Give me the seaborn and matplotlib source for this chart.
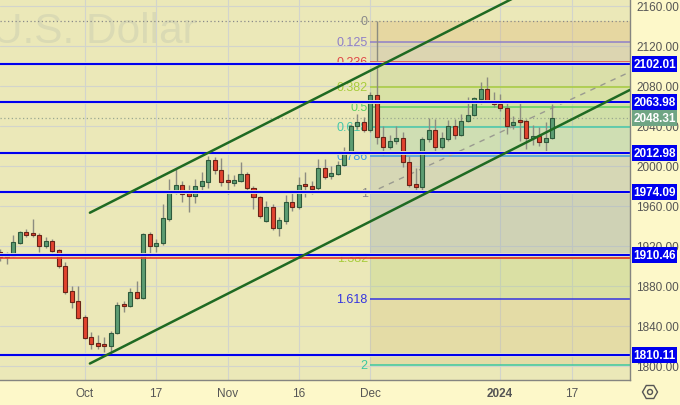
import numpy as np
import pandas as pd
import matplotlib
matplotlib.use('Agg')
import matplotlib.pyplot as plt
import matplotlib.patheffects as pe
from matplotlib.patches import RegularPolygon, Circle, Rectangle
from matplotlib.transforms import blended_transform_factory
import seaborn as sns

# daily candles, mid-Sep 2023 .. 12 Jan 2024
opens = [1914, 1909, 1910, 1923, 1934, 1932, 1931, 1920, 1925, 1916, 1900, 1875, 1865,
         1849, 1829, 1823, 1821, 1820, 1833, 1861, 1860, 1874, 1868, 1932, 1920, 1923,
         1947, 1974, 1981, 1973, 1970, 1980, 1984, 2006, 1996, 1985, 1983, 1985, 1992,
         1978, 1969, 1945, 1959, 1938, 1945, 1964, 1959, 1981, 1980, 1978, 1998, 1990,
         1992, 2001, 2013, 2040, 2044, 2036, 2071, 2029, 2019, 2025, 2028, 2004, 1982,
         1979, 2027, 2036, 2019, 2027, 2040, 2031, 2045, 2051, 2067, 2077, 2065, 2062,
         2058, 2041, 2045, 2045, 2028, 2030, 2024, 2028]
highs = [1917, 1914, 1931, 1935, 1937, 1947, 1933, 1929, 1927, 1917, 1904, 1880, 1880,
         1851, 1834, 1831, 1829, 1835, 1864, 1865, 1878, 1885, 1933, 1934, 1927, 1962,
         1987, 1997, 1985, 1981, 1987, 1994, 2010, 2009, 2008, 1992, 1991, 2004, 1994,
         1980, 1970, 1965, 1962, 1949, 1971, 1975, 1989, 1994, 1985, 2007, 2007, 2000,
         2005, 2019, 2042, 2052, 2049, 2074, 2145, 2040, 2031, 2040, 2034, 2010, 1998,
         2029, 2048, 2047, 2034, 2046, 2047, 2052, 2069, 2069, 2084, 2089, 2074, 2072,
         2064, 2050, 2064, 2047, 2041, 2039, 2044, 2062]
lows = [1905, 1902, 1909, 1922, 1929, 1929, 1914, 1918, 1914, 1898, 1872, 1858, 1847,
        1827, 1817, 1817, 1814, 1813, 1832, 1854, 1859, 1867, 1867, 1909, 1914, 1921,
        1945, 1972, 1964, 1954, 1963, 1974, 1978, 1992, 1980, 1972, 1980, 1984, 1976,
        1957, 1948, 1944, 1936, 1930, 1942, 1955, 1957, 1969, 1972, 1976, 1987, 1987,
        1991, 2000, 2012, 2037, 2034, 2034, 2022, 2011, 2017, 2022, 1999, 1979, 1976,
        1974, 2024, 2015, 2017, 2025, 2027, 2030, 2044, 2050, 2062, 2064, 2059, 2055,
        2032, 2037, 2025, 2017, 2021, 2020, 2014, 2027]
closes = [1909, 1911, 1924, 1934, 1931, 1931, 1920, 1925, 1915, 1900, 1874, 1864, 1848,
          1828, 1822, 1820, 1820, 1833, 1861, 1860, 1874, 1868, 1932, 1920, 1923, 1948,
          1975, 1981, 1972, 1970, 1980, 1985, 2006, 1996, 1984, 1984, 1986, 1992, 1978,
          1969, 1950, 1959, 1938, 1946, 1964, 1959, 1981, 1980, 1977, 1998, 1989, 1993,
          2001, 2013, 2040, 2044, 2036, 2071, 2029, 2019, 2025, 2028, 2004, 1981, 1979,
          2027, 2036, 2019, 2028, 2040, 2031, 2045, 2051, 2068, 2077, 2065, 2062, 2058,
          2040, 2044, 2044, 2028, 2030, 2024, 2028, 2048.31]

tick_labels = ['Oct', '17', 'Nov', '16', 'Dec', '2024', '17']
tick_bars = [13, 24, 35, 46, 57, 77, 88]   # bar number under each date label

# horizontal levels drawn on the chart
blue_levels = [2102.01, 2063.98, 2012.98, 1974.09, 1910.46, 1810.11]
red_level = 1908
last_price = 2048.31

# trend channel (bar number, price)
upper_channel = [(13.8, 1953), (97.0, 2227)]
lower_channel = [(13.8, 1802), (97.0, 2076)]
mid_dashed = [(58.3, 1977), (97.0, 2094)]

# fibonacci from the Dec 4 high to the Dec 13 low
fib_high, fib_low, fib_start = 2145, 1973, 57
fib_ratios = [0, 0.125, 0.236, 0.382, 0.5, 0.618, 0.786, 1, 1.382, 1.618, 2]
fib_labels = ['0', '0.125', '0.236', '0.382', '0.5', '0.618', '0.786', '1', '1.382', '1.618', '2']
fib_colors = ['#8a8a8a', '#8f7fc8', '#e04848', '#a8cc3c', '#5fcf5f', '#46c8a8',
              '#3f9ee0', '#8a8a8a', '#a8cc3c', '#3434e0', '#3cc8a0']
band_colors = ['#d8a860', '#b0a0a0', '#a8c880', '#a0d070', '#70c070', '#60b8a0',
               '#98a8b0', '#98a8b0', '#a0c860', '#c8b060']
band_alpha = [0.25, 0.25, 0.25, 0.25, 0.22, 0.2, 0.25, 0.33, 0.22, 0.2]

sns.set_theme(style='whitegrid')
plt.rcParams['font.family'] = ['Liberation Sans', 'DejaVu Sans']

fig = plt.figure(figsize=(6.8, 4.06), dpi=100, facecolor='#fdf8c9')
ax = fig.add_axes([0, 25 / 406, 630 / 680, 381 / 406])
ax.set_facecolor('#ebe8b8')

x = np.arange(len(opens))
df = pd.DataFrame({'x': x, 'open': opens, 'high': highs, 'low': lows, 'close': closes})
df['up'] = df['close'] >= df['open']

xmin, xmax = -0.05, 97.0
ax.set_xlim(xmin, xmax)
ax.set_ylim(1785.5, 2167)

# grid
ax.set_yticks(np.arange(1800, 2161, 40))
ax.set_xticks(tick_bars)
ax.set_xticklabels(tick_labels)
ax.grid(True, color='#d2d4cc', lw=0.8, zorder=0)
ax.set_axisbelow(True)

# watermark
ax.text(-8 / 630, 1 - 43 / 381, 'U.S. Dollar', transform=ax.transAxes, fontsize=30.5,
        color='#dadab4', ha='left', va='baseline', zorder=0.5)

# fib zone
prices = [fib_high - r * (fib_high - fib_low) for r in fib_ratios]
for i in range(len(prices) - 1):
    ax.fill_between([fib_start, xmax], prices[i + 1], prices[i], color=band_colors[i],
                    alpha=band_alpha[i], lw=0, zorder=1)
for p, lab, c in zip(prices, fib_labels, fib_colors):
    if lab != '0':
        ax.hlines(p, fib_start, xmax, color=c, lw=1.1, zorder=1.5)
    ax.text(fib_start - 0.4, p, lab, color=c, fontsize=9, ha='right', va='center', zorder=1.6)
ax.axhline(fib_high, color='#8a8a8a', lw=0.9, ls=(0, (1, 2)), zorder=1.5)
ax.axhline(last_price, color='#9aa890', lw=0.9, ls=(0, (1, 2)), zorder=1.5)

# channel lines
for seg, style in [(upper_channel, '-'), (lower_channel, '-'), (mid_dashed, '--')]:
    seg_df = pd.DataFrame(seg, columns=['x', 'y'])
    if style == '-':
        sns.lineplot(data=seg_df, x='x', y='y', ax=ax, color='#1f6a22', lw=1.8, zorder=3)
    else:
        sns.lineplot(data=seg_df, x='x', y='y', ax=ax, color='#9a9a90', lw=1.0, zorder=1.8,
                     linestyle=(0, (4, 4)))

# candles
ax.vlines(df['x'], df['low'], df['high'], color='#8c8c80', lw=1.0, zorder=2)
body_lo = np.minimum(df['open'], df['close'])
body_h = np.maximum(np.abs(df['close'] - df['open']), 1.5)
ax.bar(df['x'][df['up']], body_h[df['up']], bottom=body_lo[df['up']], width=0.62,
       color='#5c9c72', edgecolor='#2f5a3c', lw=0.8, zorder=2.2)
ax.bar(df['x'][~df['up']], body_h[~df['up']], bottom=body_lo[~df['up']], width=0.62,
       color='#e2432f', edgecolor='#6a2418', lw=0.8, zorder=2.2)

# horizontal lines
ax.axhline(red_level, color='#e8382c', lw=1.2, zorder=2.4)
for lvl in blue_levels:
    ax.axhline(lvl, color='#0000ee', lw=1.6, zorder=2.5,
               path_effects=[pe.Stroke(linewidth=2.8, foreground='#fbf6c0'), pe.Normal()])

ax.set_xlabel('')
ax.set_ylabel('')

# axes and labels
ax.yaxis.tick_right()
ax.tick_params(axis='y', length=0, pad=4.5, labelsize=8.5, labelcolor='#555555')
ax.tick_params(axis='x', length=0, pad=5, labelsize=8.5, labelcolor='#555555')
ax.get_xticklabels()[5].set_fontweight('bold')
for s in ['top', 'left']:
    ax.spines[s].set_visible(False)
for s in ['right', 'bottom']:
    ax.spines[s].set_color('#858580')
    ax.spines[s].set_linewidth(1.0)
ax.yaxis.set_major_formatter(matplotlib.ticker.FormatStrFormatter('%.2f'))

# price tags on the scale
tr = blended_transform_factory(ax.transAxes, ax.transData)
tags = [(lvl, '#0000ee') for lvl in blue_levels] + [(last_price, '#6fa584')]
for lvl, fc in tags:
    ax.add_patch(Rectangle((632 / 630, lvl - 8), 45 / 630, 16, transform=tr, fc=fc,
                           ec='none', clip_on=False, zorder=4.9))
    ax.text(654.5 / 630, lvl, f'{lvl:.2f}', transform=tr, ha='center', va='center',
            fontsize=8.5, fontweight='bold', color='white', clip_on=False, zorder=5)

# settings icon
fig.add_artist(RegularPolygon((6.50, 0.13), 6, radius=0.075, orientation=np.pi / 6,
                              transform=fig.dpi_scale_trans, fill=False, ec='#555555', lw=1.0))
fig.add_artist(Circle((6.50, 0.13), 0.025, transform=fig.dpi_scale_trans, fill=False,
                      ec='#555555', lw=1.0))

fig.savefig('out.png', dpi=100, facecolor=fig.get_facecolor())
